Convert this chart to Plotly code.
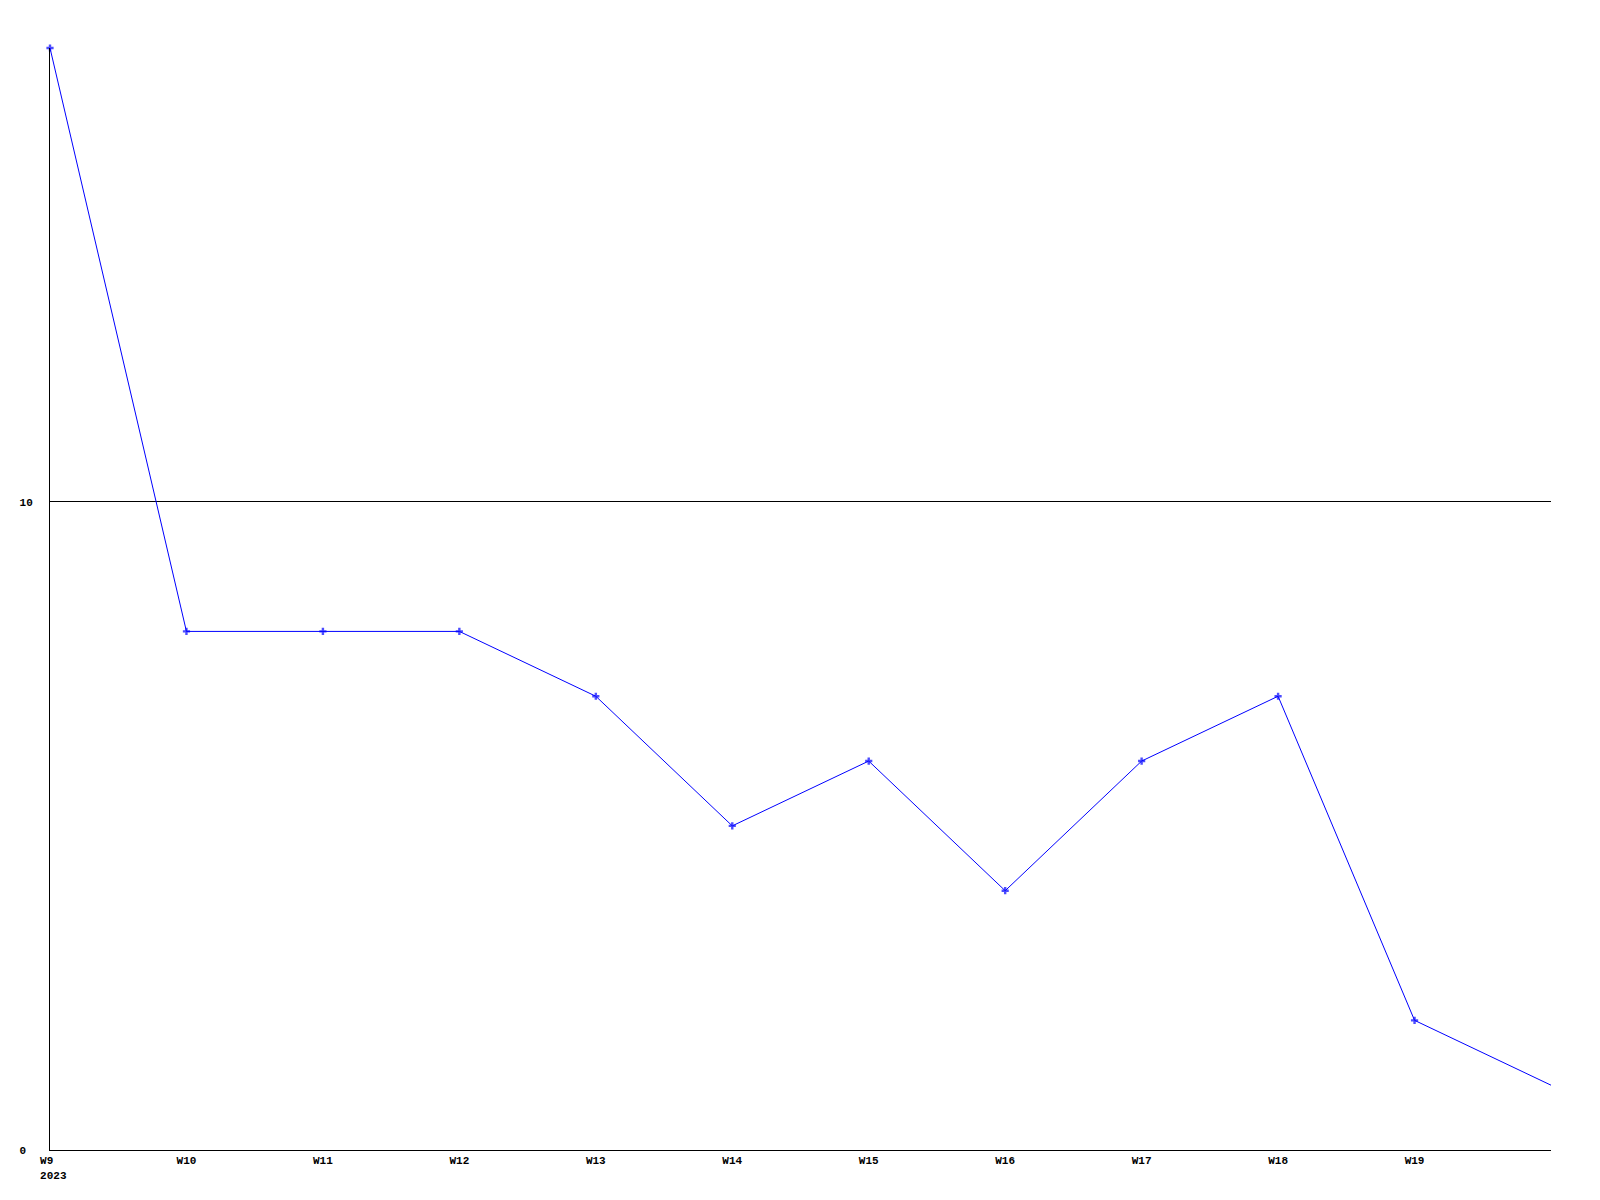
import plotly.graph_objects as go

weeks = [9, 10, 11, 12, 13, 14, 15, 16, 17, 18, 19, 20]
values = [17, 8, 8, 8, 7, 5, 6, 4, 6, 7, 2, 1]
tick_weeks = [9, 10, 11, 12, 13, 14, 15, 16, 17, 18, 19]
tick_labels = ["\u00a0W9\u00a0\u00a0<br>\u00a02023", "W10", "W11", "W12", "W13", "W14",
               "W15", "W16", "W17", "W18", "W19"]
y_ticks = [0, 10]
y_labels = ["0\u00a0", "10"]

marker_sizes = [6] * (len(weeks) - 1) + [0]

fig = go.Figure()
fig.add_trace(go.Scatter(
    x=weeks, y=values, mode="lines+markers",
    line=dict(color="#0000ff", width=1),
    marker=dict(symbol="cross", size=marker_sizes, color="#0000ff", line=dict(width=0)),
    cliponaxis=False, showlegend=False, hoverinfo="x+y",
))

font = dict(family="Liberation Mono, DejaVu Sans Mono, monospace", size=11, color="black", weight="bold")

fig.update_layout(
    width=1592, height=1192,
    margin=dict(l=42, r=49, t=40, b=50),
    paper_bgcolor="white", plot_bgcolor="white",
    font=font,
    xaxis=dict(
        range=[9, 20], tickmode="array", tickvals=tick_weeks, ticktext=tick_labels,
        showgrid=False, zeroline=False, showline=True, linecolor="black", linewidth=1,
        ticks="", tickfont=font,
    ),
    yaxis=dict(
        range=[0, 17], tickmode="array", tickvals=y_ticks, ticktext=y_labels,
        showgrid=True, gridcolor="black", gridwidth=1, zeroline=False,
        showline=True, linecolor="black", linewidth=1, ticks="", ticklabelstandoff=14,
        tickfont=font,
    ),
)

fig.write_html("out.html")
